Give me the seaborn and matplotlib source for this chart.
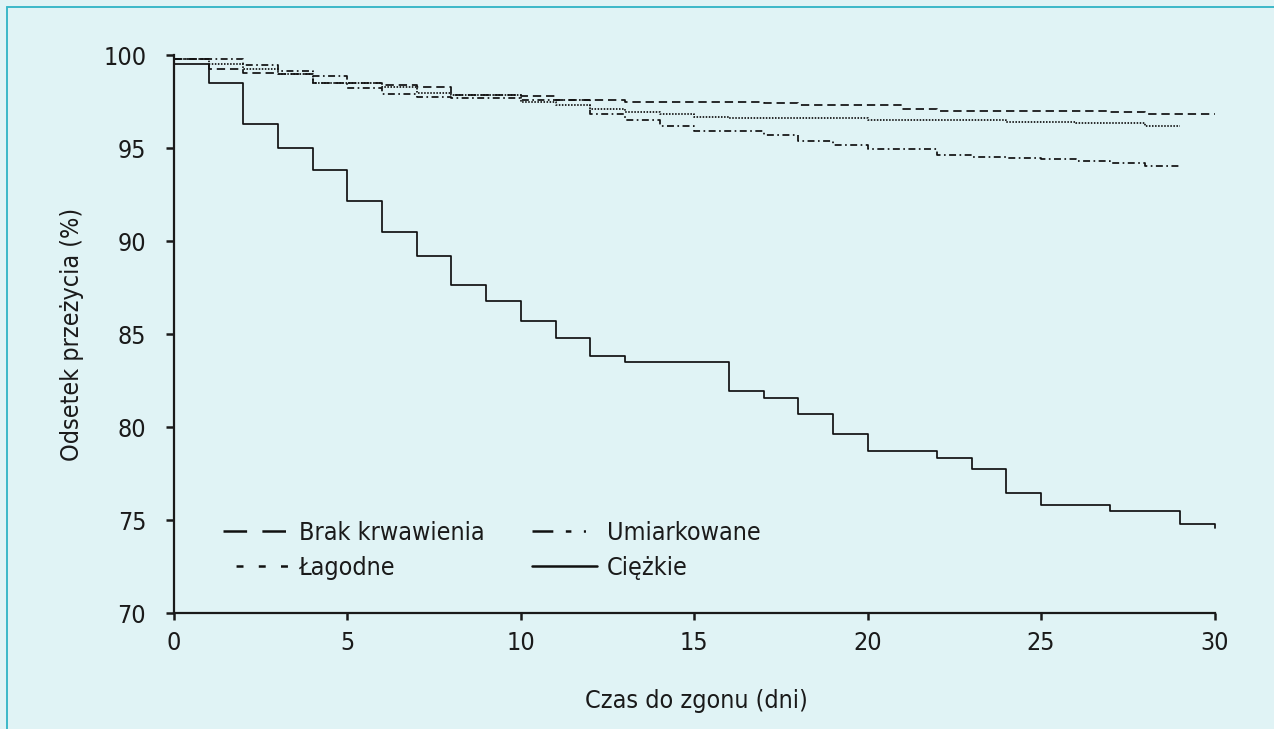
import matplotlib
matplotlib.use("Agg")
import matplotlib.pyplot as plt
from matplotlib.lines import Line2D
from matplotlib import font_manager
from matplotlib.font_manager import FontProperties
import seaborn as sns
import pandas as pd

# ---------------- data ----------------
brak_t = [0, 1, 2, 3, 4, 6, 7, 8, 10, 11, 13, 17, 18, 21, 22, 27, 28, 30]
brak_v = [99.78, 99.28, 99.03, 98.97, 98.53, 98.40, 98.28, 97.85, 97.81, 97.62,
          97.49, 97.42, 97.33, 97.11, 97.02, 96.93, 96.84, 96.84]

lag_t = [0, 1, 2, 3, 4, 6, 7, 8, 10, 11, 12, 13, 14, 15, 16, 20, 24, 26, 28, 29]
lag_v = [99.78, 99.53, 99.28, 98.98, 98.50, 98.30, 97.99, 97.85, 97.50, 97.33,
         97.11, 96.93, 96.83, 96.70, 96.65, 96.52, 96.43, 96.34, 96.22, 96.22]

umi_t = [0, 2, 3, 4, 5, 6, 7, 8, 10, 12, 13, 14, 15, 17, 18, 19, 20, 22, 23, 24,
         25, 26, 27, 28, 29]
umi_v = [99.78, 99.48, 99.17, 98.90, 98.22, 97.94, 97.78, 97.72, 97.60, 96.83,
         96.52, 96.22, 95.95, 95.73, 95.37, 95.16, 94.98, 94.62, 94.52, 94.48,
         94.41, 94.32, 94.19, 94.06, 94.06]

ciez_t = [0, 1, 2, 3, 4, 5, 6, 7, 8, 9, 10, 11, 12, 13, 16, 17, 18, 19, 20, 22,
          23, 24, 25, 27, 29, 30]
ciez_v = [99.52, 98.53, 96.29, 95.01, 93.85, 92.17, 90.50, 89.23, 87.65, 86.77,
          85.70, 84.82, 83.83, 83.53, 81.97, 81.58, 80.70, 79.62, 78.73, 78.37,
          77.76, 76.49, 75.82, 75.52, 74.80, 74.57]

labels = ["Brak krwawienia", "Łagodne", "Umiarkowane", "Ciężkie"]
x_ticks = [0, 5, 10, 15, 20, 25, 30]
y_ticks = [70, 75, 80, 85, 90, 95, 100]
x_title = "Czas do zgonu (dni)"
y_title = "Odsetek przeżycia (%)"

# ---------------- style ----------------
BG = "#e0f3f5"
BORDER = "#3cb8c8"
INK = "#1a1a1a"
sns.set_theme(style="ticks")
plt.rcParams["font.family"] = ["Liberation Sans", "DejaVu Sans"]
plt.rcParams["lines.scale_dashes"] = False

# look for a condensed / narrow sans face (the original uses a condensed grotesque)
cond = None
for f in font_manager.fontManager.ttflist:
    fn = f.fname.lower()
    nm = f.name.lower()
    is_cond = ("narrow" in fn or "condensed" in fn or "narrow" in nm or "condensed" in nm
               or str(f.stretch) in ("condensed", "semi-condensed"))
    if is_cond and f.style == "normal" and f.weight in (400, "normal", "regular") \
            and "bold" not in fn and "light" not in fn and "mono" not in fn \
            and "serif" not in nm.replace("sans", ""):
        cond = f.fname
        break

if cond is not None:
    FS = 18
    def FP(size=FS):
        return FontProperties(fname=cond, size=size)
else:
    FS = 17
    def FP(size=FS):
        return FontProperties(family=["Liberation Sans", "DejaVu Sans"], size=size)

fig = plt.figure(figsize=(12.74, 7.29), dpi=100, facecolor=BG)
ax = fig.add_axes([174 / 1274, 1 - 613.3 / 729, (1218 - 174) / 1274, (613.3 - 55.3) / 729])
ax.set_facecolor(BG)

styles = [
    (0, (6, 3.5)),            # dashed
    (0, (1.1, 1.1)),          # dotted
    (0, (5, 2.5, 1.2, 2.5)),  # dash-dot
    "-",                      # solid
]
series = [(brak_t, brak_v), (lag_t, lag_v), (umi_t, umi_v), (ciez_t, ciez_v)]
for (t, v), ls, lab in zip(series, styles, labels):
    df = pd.DataFrame({"t": t, "v": v})
    sns.lineplot(data=df, x="t", y="v", ax=ax, drawstyle="steps-post",
                 color="#111111", linewidth=1.25, linestyle=ls,
                 estimator=None, legend=False)

ax.set_xlim(0, 30.1)
ax.set_ylim(70, 100)
ax.set_xticks(x_ticks)
ax.set_yticks(y_ticks)
ax.set_xticklabels([str(v) for v in x_ticks], fontproperties=FP(), color=INK)
ax.set_yticklabels([str(v) for v in y_ticks], fontproperties=FP(), color=INK)
ax.tick_params(axis="y", length=6, width=1.8, pad=14, color=INK)
ax.tick_params(axis="x", length=5, width=1.8, pad=8, color=INK)
for s in ["top", "right"]:
    ax.spines[s].set_visible(False)
for s in ["left", "bottom"]:
    ax.spines[s].set_linewidth(1.6)
    ax.spines[s].set_color(INK)
ax.spines["bottom"].set_bounds(0, 30)

ax.set_xlabel(x_title, fontproperties=FP(), color=INK, labelpad=24)
ax.set_ylabel(y_title, fontproperties=FP(), color=INK, labelpad=14)

# legend (custom handles mimicking the original key)
h = [
    Line2D([], [], color="#111111", lw=1.8, linestyle=(0, (17, 11))),
    Line2D([], [], color="#111111", lw=1.8, linestyle=(6.6, (5, 11))),
    Line2D([], [], color="#111111", lw=1.8, linestyle=(0, (15, 9, 4, 9, 1.5, 20))),
    Line2D([], [], color="#111111", lw=1.8, linestyle="-"),
]
leg = ax.legend(h, labels, ncol=2, loc="upper left", frameon=False,
                bbox_to_anchor=(0.047, 0.165), borderpad=0, borderaxespad=0,
                handlelength=2.6, handletextpad=0.42, columnspacing=1.9,
                labelspacing=0.42, prop=FP())
for t in leg.get_texts():
    t.set_color(INK)

# frame lines of the original panel
fig.add_artist(Line2D([7 / 1274, 7 / 1274], [0, 1 - 7 / 729], transform=fig.transFigure,
                      color=BORDER, lw=1.4))
fig.add_artist(Line2D([7 / 1274, 1], [1 - 7 / 729, 1 - 7 / 729], transform=fig.transFigure,
                      color=BORDER, lw=1.4))

fig.savefig("out.png", dpi=100, facecolor=BG)
